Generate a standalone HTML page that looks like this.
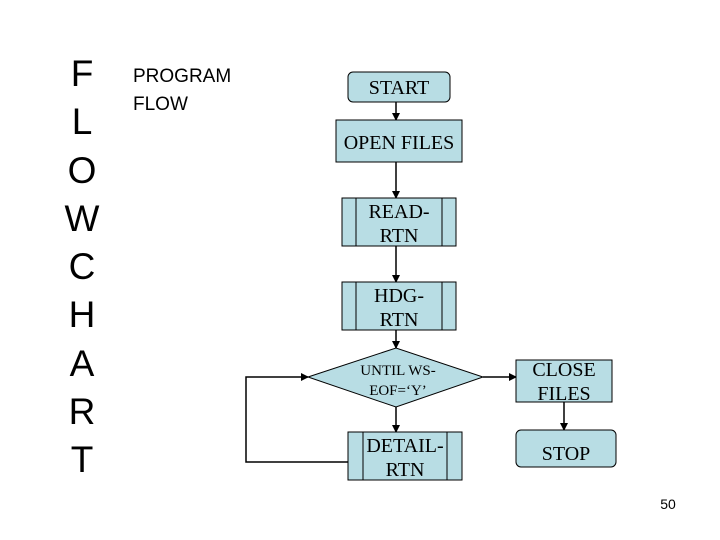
<!DOCTYPE html>
<html><head><style>
body{margin:0;background:#fff;}
svg{display:block}
</style></head><body>
<svg width="720" height="540" xmlns="http://www.w3.org/2000/svg">
<defs><marker id="a" markerWidth="8" markerHeight="8" refX="7" refY="4" orient="auto" markerUnits="userSpaceOnUse"><path d="M0,0 L8,4 L0,8 z" fill="#000"/></marker></defs>
<g font-family="Liberation Sans, sans-serif" font-size="37" text-anchor="middle" fill="#000">
<text x="82" y="86">F</text><text x="82" y="134">L</text><text x="82" y="183">O</text><text x="82" y="231">W</text><text x="82" y="279">C</text><text x="82" y="327">H</text><text x="82" y="376">A</text><text x="82" y="424">R</text><text x="82" y="472">T</text>
</g>
<g font-family="Liberation Sans, sans-serif" font-size="19"><text x="133" y="82">PROGRAM</text><text x="133" y="110">FLOW</text></g>
<text x="668" y="509" font-family="Liberation Sans, sans-serif" font-size="14" text-anchor="middle">50</text>
<g stroke="#000" stroke-width="1.5" fill="none">
<line x1="396" y1="102" x2="396" y2="120" marker-end="url(#a)"/>
<line x1="396" y1="162" x2="396" y2="198" marker-end="url(#a)"/>
<line x1="396" y1="246" x2="396" y2="282" marker-end="url(#a)"/>
<line x1="396" y1="330" x2="396" y2="348" marker-end="url(#a)"/>
<line x1="396" y1="407" x2="396" y2="432" marker-end="url(#a)"/>
<line x1="483" y1="377" x2="516" y2="377" marker-end="url(#a)"/>
<line x1="564" y1="402" x2="564" y2="430" marker-end="url(#a)"/>
<polyline points="348,462 246,462 246,377 308,377" marker-end="url(#a)"/>
</g>
<g fill="#b8dde4" stroke="#000" stroke-width="1">
<rect x="348" y="72" width="102" height="30" rx="5"/>
<rect x="336" y="120" width="126" height="42"/>
<rect x="342" y="198" width="114" height="48"/>
<line x1="356" y1="198" x2="356" y2="246"/><line x1="442" y1="198" x2="442" y2="246"/>
<rect x="342" y="282" width="114" height="48"/>
<line x1="356" y1="282" x2="356" y2="330"/><line x1="442" y1="282" x2="442" y2="330"/>
<polygon points="308,377 396,348 483,377 396,407"/>
<rect x="348" y="432" width="114" height="48"/>
<line x1="363" y1="432" x2="363" y2="480"/><line x1="447" y1="432" x2="447" y2="480"/>
<rect x="516" y="360" width="96" height="42"/>
<rect x="516" y="430" width="100" height="37" rx="5"/>
</g>
<g font-family="Liberation Serif, serif" font-size="20" text-anchor="middle">
<text x="399" y="94">START</text>
<text x="399" y="149">OPEN FILES</text>
<text x="399" y="218">READ-</text><text x="399" y="242">RTN</text>
<text x="399" y="302">HDG-</text><text x="399" y="326">RTN</text>
<text x="564" y="376">CLOSE</text><text x="564" y="400">FILES</text>
<text x="566" y="460">STOP</text>
<text x="405" y="452">DETAIL-</text><text x="405" y="476">RTN</text>
</g>
<g font-family="Liberation Serif, serif" font-size="15" text-anchor="middle">
<text x="398" y="375">UNTIL WS-</text><text x="398" y="395">EOF=‘Y’</text>
</g>
</svg>
</body></html>
